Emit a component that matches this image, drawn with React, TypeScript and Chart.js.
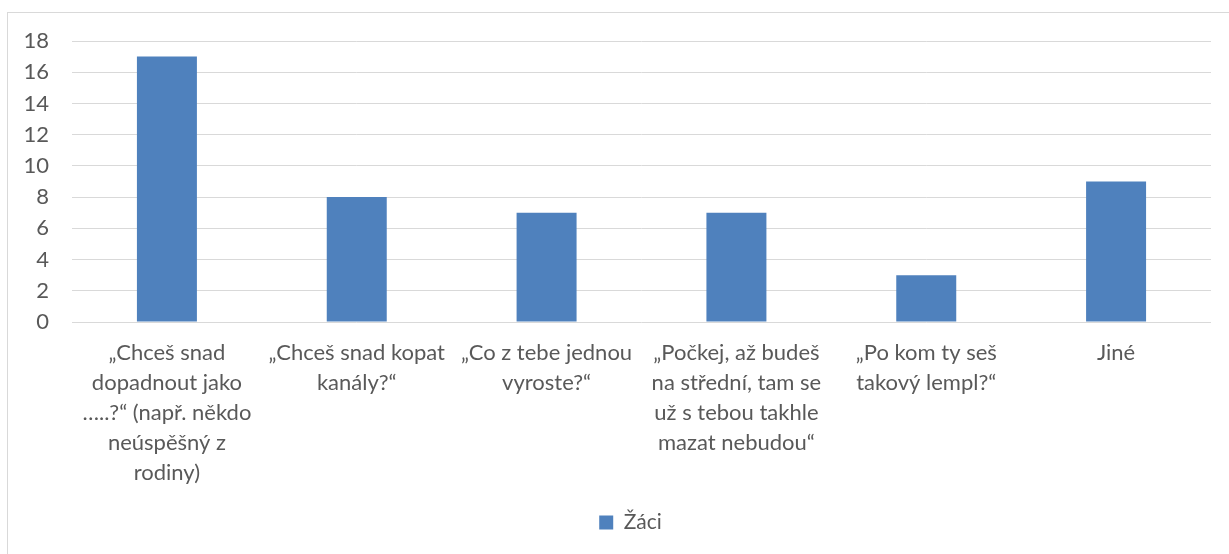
import React, { useEffect, useRef } from "react";
import { Chart, registerables } from "chart.js";

Chart.register(...registerables);

const categories: string[][] = [
  ["„Chceš snad", "dopadnout jako", "…..?“ (např. někdo", "neúspěšný z", "rodiny)"],
  ["„Chceš snad kopat", "kanály?“"],
  ["„Co z tebe jednou", "vyroste?“"],
  ["„Počkej, až budeš", "na střední, tam se", "už s tebou takhle", "mazat nebudou“"],
  ["„Po kom ty seš", "takový lempl?“"],
  ["Jiné"],
];
const seriesName = "Žáci";
const values: number[] = [17, 8, 7, 7, 3, 9];
const yMin = 0;
const yMax = 18;
const yStep = 2;

const FONT = "Lato, 'Open Sans', sans-serif";
const TEXT = "#595959";
const GRID = "#D9D9D9";
const BAR = "#4F81BD";

const frame = {
  id: "frame",
  beforeDraw(chart: any) {
    const ctx = chart.ctx;
    ctx.save();
    ctx.fillStyle = "#ffffff";
    ctx.fillRect(0, 0, chart.width, chart.height);
    ctx.strokeStyle = GRID;
    ctx.lineWidth = 1;
    ctx.strokeRect(7.5, 12.5, 1300, 700);
    ctx.restore();
  },
};

const legendShift = {
  id: "legendShift",
  afterLayout(chart: any) {
    const lg = chart.legend;
    if (lg) {
      lg.left += 25;
      lg.right += 25;
    }
  },
};

export default function App() {
  const ref = useRef<HTMLCanvasElement | null>(null);
  useEffect(() => {
    if (!ref.current) return;
    const chart = new Chart(ref.current, {
      type: "bar",
      data: {
        labels: categories,
        datasets: [
          {
            label: seriesName,
            data: values,
            backgroundColor: BAR,
            borderWidth: 0,
            barPercentage: 0.316,
            categoryPercentage: 1,
          },
        ],
      },
      options: {
        responsive: false,
        animation: false,
        layout: { padding: { left: 0, right: 18, top: 41, bottom: 11 } },
        plugins: {
          tooltip: { enabled: false },
          legend: {
            position: "bottom",
            labels: {
              boxWidth: 14,
              boxHeight: 14,
              padding: 10,
              color: TEXT,
              font: { family: FONT, size: 21 },
            },
          },
        },
        scales: {
          x: {
            grid: { display: false, drawTicks: false },
            border: { display: false },
            ticks: {
              color: TEXT,
              font: { family: FONT, size: 22, lineHeight: 1.36 },
              padding: 16,
              maxRotation: 0,
              autoSkip: false,
            },
            afterFit(scale: any) {
              scale.height = 180;
            },
          },
          y: {
            min: yMin,
            max: yMax,
            grid: { color: GRID, lineWidth: 1, drawTicks: false },
            border: { display: false },
            ticks: {
              stepSize: yStep,
              color: TEXT,
              font: { family: FONT, size: 22 },
              padding: 23,
            },
            afterFit(scale: any) {
              scale.width = 72;
            },
          },
        },
      },
      plugins: [frame, legendShift],
    });
    return () => chart.destroy();
  }, []);
  return (
    <canvas
      ref={ref}
      width={1229}
      height={554}
      style={{ position: "absolute", left: 0, top: 0, display: "block" }}
    />
  );
}
